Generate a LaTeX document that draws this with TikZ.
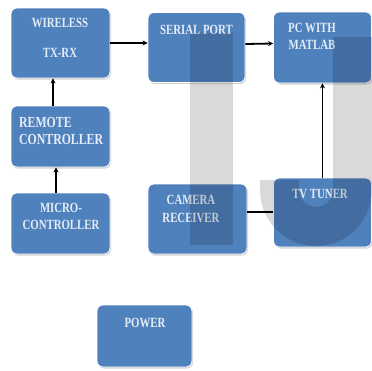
\documentclass[tikz,border=0pt]{standalone}
\usepackage{fontspec}
\setmainfont{Liberation Serif}
\usepackage{xcolor}
\usepackage{tikz}
\usetikzlibrary{positioning, arrows.meta, shadows}

\definecolor{boxblue}{HTML}{4F81BD}
\definecolor{boxtext}{HTML}{E4ECF6}

\begin{document}
\begin{tikzpicture}[x=1pt, y=1pt,
    block/.style={draw=white, line width=0.8pt, rounded corners=6pt, fill=boxblue,
      drop shadow={opacity=0.35, shadow xshift=1pt, shadow yshift=-1.5pt}},
    blocktext/.style={text=boxtext, font=\fontsize{10.8}{13.3}\selectfont\bfseries, align=center,
      inner sep=0pt, yscale=1.3, transform shape},
    link/.style={line width=1.8pt, -{Stealth[length=5pt, width=5pt]}},
    wmark/.style={fill=black, opacity=0.15}]
  \useasboundingbox (0,0) rectangle (372,-370);
  % blocks
  \node[block, minimum width=99pt, minimum height=70pt] (wireless) at (60.5,-43) {};
  \node[block, minimum width=97pt, minimum height=70pt] (serial) at (196.5,-47.5) {};
  \node[block, minimum width=98pt, minimum height=71pt] (pc) at (322.5,-47.5) {};
  \node[block, minimum width=99pt, minimum height=61pt] (remote) at (60.5,-136.5) {};
  \node[block, minimum width=99pt, minimum height=61pt] (micro) at (60.5,-223.5) {};
  \node[block, minimum width=99pt, minimum height=70pt] (camera) at (197.5,-219) {};
  \node[block, minimum width=98pt, minimum height=69pt] (tuner) at (322.5,-212.5) {};
  \node[block, minimum width=95pt, minimum height=62pt] (power) at (144.5,-336) {};
  % texts
  \node[blocktext] (wirelesstxt) at (60,-37.5) {WIRELESS\\[10pt]TX-RX};
  \node[blocktext] (serialtxt) at (196.5,-30) {SERIAL PORT};
  \node[blocktext] (pctxt) at (312,-36.5) {PC WITH\\MATLAB};
  \node[blocktext, align=left, anchor=west, font=\fontsize{11.8}{13.3}\selectfont\bfseries] (remotetxt) at (19,-131) {REMOTE\\CONTROLLER};
  \node[blocktext] (microtxt) at (61,-216.5) {MICRO-\\CONTROLLER};
  \node[blocktext] (cameratxt) at (191,-209) {CAMERA\\RECEIVER};
  \node[blocktext] (tunertxt) at (320,-194) {TV TUNER};
  \node[blocktext] (powertxt) at (145,-323) {POWER};
  % connections
  \draw[link] (wireless.east) -- (wireless.east -| serial.west);
  \draw[link] ([yshift=3.5pt]serial.east) -- ([yshift=4pt]pc.west);
  \draw[link] ([xshift=-7.5pt]remote.north) -- ([xshift=-7.5pt]wireless.south);
  \draw[link] ([xshift=-4.5pt]micro.north) -- ([xshift=-4.5pt]remote.south);
  \draw[link] (tuner.north) -- (pc.south);
  \draw[line width=2.5pt] ([yshift=7pt]camera.east) -- ([yshift=7pt]camera.east -| tuner.west);
  % watermark
  \fill[wmark] (190,-33) rectangle (233,-245);
  \fill[wmark] (260,-180) -- (260,-190) arc[start angle=180, end angle=360, radius=56]
    -- (372,-37) -- (333,-37) -- (333,-190) arc[start angle=0, end angle=-180, radius=17]
    -- (299,-180) -- cycle;
\end{tikzpicture}
\end{document}
